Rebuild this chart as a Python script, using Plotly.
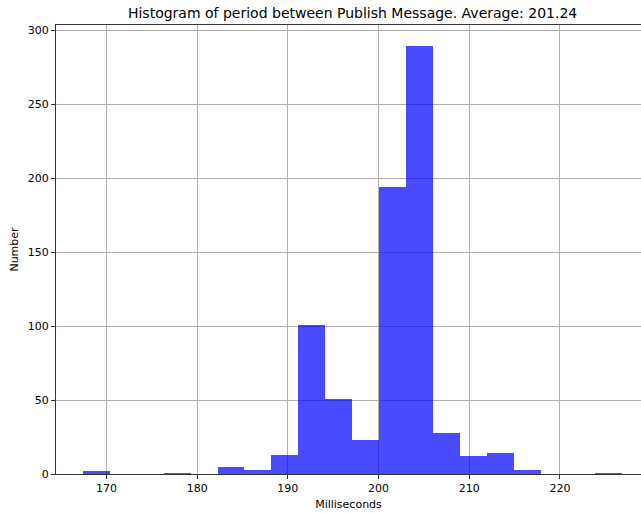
import plotly.graph_objects as go

# Histogram data (20 equal bins)
bin_edges = [167.40, 170.37, 173.34, 176.31, 179.28, 182.25, 185.22, 188.19,
             191.16, 194.13, 197.10, 200.07, 203.04, 206.01, 208.98, 211.95,
             214.92, 217.89, 220.86, 223.83, 226.80]
counts = [2, 0, 0, 1, 0, 5, 3, 13, 101, 51, 23, 194, 289, 28, 12, 14, 3, 0, 0, 1]

x_ticks = [170, 180, 190, 200, 210, 220]
y_ticks = [0, 50, 100, 150, 200, 250, 300]

title_text = "Histogram of period between Publish Message. Average: 201.24"
x_label = "Milliseconds"
y_label = "Number"

centers = [(a + b) / 2 for a, b in zip(bin_edges[:-1], bin_edges[1:])]
widths = [b - a for a, b in zip(bin_edges[:-1], bin_edges[1:])]

FONT = "DejaVu Sans"

fig = go.Figure()
fig.add_trace(go.Bar(
    x=centers, y=counts, width=widths,
    marker=dict(color="rgba(0,0,255,0.71)", line=dict(width=0)),
    hoverinfo="x+y",
))

fig.update_layout(
    width=641, height=513,
    margin=dict(l=56, r=0, t=25, b=39),
    paper_bgcolor="white", plot_bgcolor="white",
    showlegend=False,
    bargap=0,
    font=dict(family=FONT, size=11, color="#000000"),
    title=dict(text=title_text, x=0.507, xref="paper", xanchor="center",
               y=1 - 13.5 / 513, yref="container", yanchor="middle",
               font=dict(family=FONT, size=14, color="#000000")),
)

fig.update_xaxes(
    range=[164.44, 228.94],
    tickmode="array", tickvals=x_ticks, ticktext=[str(v) for v in x_ticks],
    showgrid=True, gridcolor="#b0b0b0", gridwidth=1,
    showline=True, linecolor="#333333", linewidth=1, mirror=True,
    ticks="outside", ticklen=4, tickcolor="#333333", tickwidth=1,
    tickfont=dict(family=FONT, size=11, color="#000000"),
    zeroline=False, layer="above traces",
    title=dict(text=x_label, standoff=6, font=dict(family=FONT, size=11, color="#000000")),
)
fig.update_yaxes(
    range=[0, 303.45],
    tickmode="array", tickvals=y_ticks, ticktext=[str(v) for v in y_ticks],
    showgrid=True, gridcolor="#b0b0b0", gridwidth=1,
    showline=True, linecolor="#333333", linewidth=1,
    ticks="outside", ticklen=4, tickcolor="#333333", tickwidth=1,
    tickfont=dict(family=FONT, size=11, color="#000000"),
    zeroline=False, layer="above traces",
    title=dict(text=y_label, standoff=6, font=dict(family=FONT, size=11, color="#000000")),
)

fig.write_html("out.html")
